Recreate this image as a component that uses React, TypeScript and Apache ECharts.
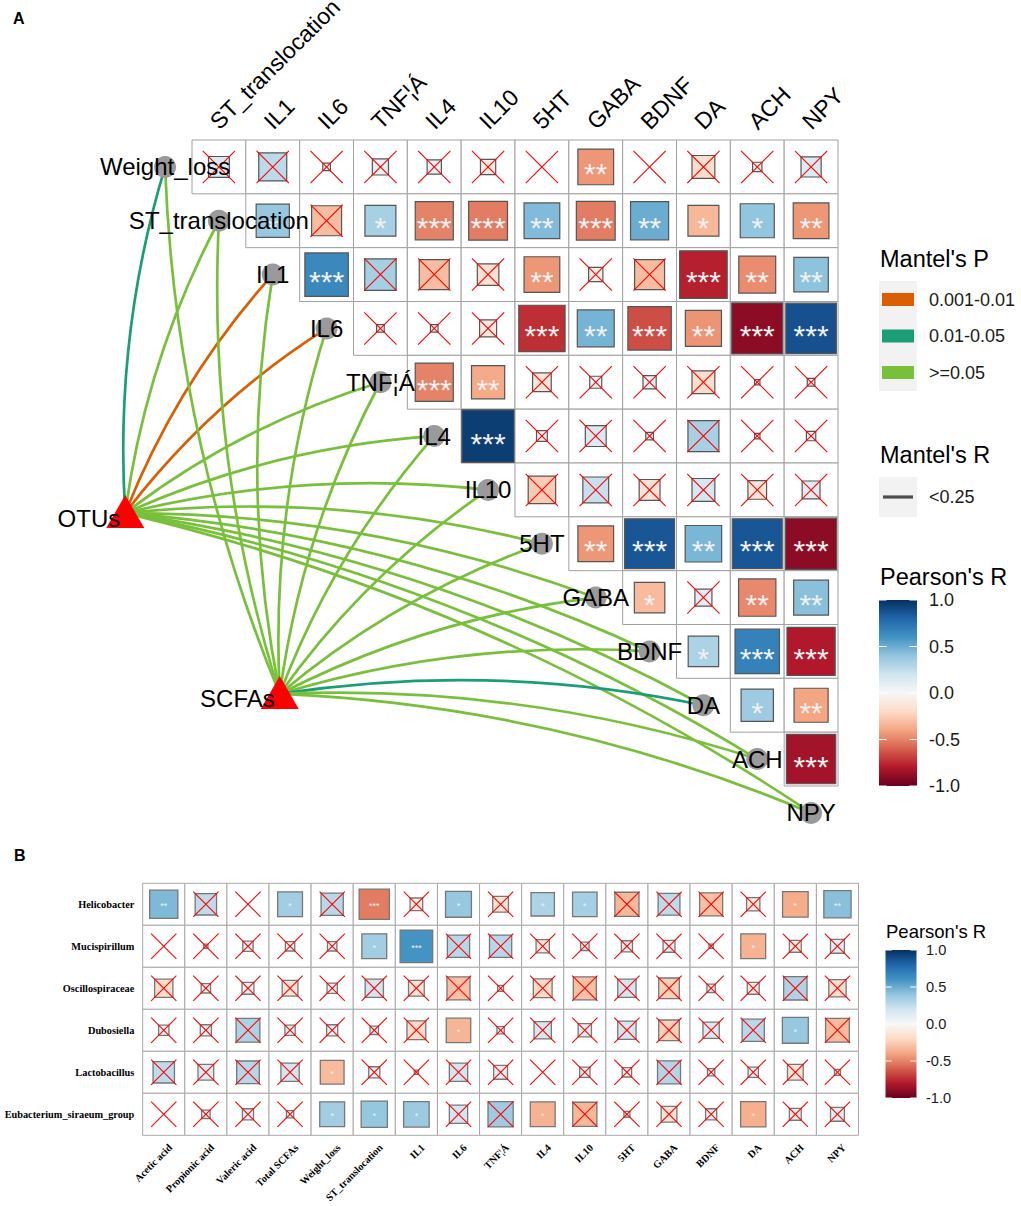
import React, { useEffect, useRef } from "react";
import * as echarts from "echarts";

// ---------------- Panel A data ----------------
const specA = ["Weight_loss", "ST_translocation", "IL1", "IL6", "TNF¦Á", "IL4", "IL10", "5HT", "GABA", "BDNF", "DA", "ACH", "NPY"];
const colsA = specA.slice(1);

const rA_WeightLoss = [0.15, 0.27, -0.02, 0.09, 0.07, -0.08, 0, -0.44, 0, -0.18, 0.03, 0.14];
const rA_ST = [0.38, -0.31, 0.33, -0.5, -0.52, 0.44, -0.52, 0.5, -0.33, 0.4, -0.44];
const rA_IL1 = [0.65, 0.34, -0.31, -0.16, -0.44, -0.07, -0.31, -0.78, -0.47, 0.41];
const rA_IL6 = [0.02, 0.02, -0.1, -0.74, 0.47, -0.65, -0.45, -0.9, 0.88];
const rA_TNF = [-0.5, -0.38, -0.12, 0.05, 0.06, -0.18, 0.01, 0.02];
const rA_IL4 = [0.95, 0.04, 0.15, 0.02, 0.33, 0.01, 0.03];
const rA_IL10 = [-0.26, 0.23, -0.15, 0.18, -0.12, 0.11];
const rA_5HT = [-0.44, 0.86, 0.46, 0.86, -0.9];
const rA_GABA = [-0.32, 0.1, -0.48, 0.42];
const rA_BDNF = [0.32, 0.68, -0.8];
const rA_DA = [0.36, -0.4];
const rA_ACH = [-0.84];
const rowsA = [rA_WeightLoss, rA_ST, rA_IL1, rA_IL6, rA_TNF, rA_IL4, rA_IL10, rA_5HT, rA_GABA, rA_BDNF, rA_DA, rA_ACH];

const sA_WeightLoss = ["ns", "ns", "ns", "ns", "ns", "ns", "ns", "**", "ns", "ns", "ns", "ns"];
const sA_ST = ["*", "ns", "*", "***", "***", "**", "***", "**", "*", "*", "**"];
const sA_IL1 = ["***", "ns", "ns", "ns", "**", "ns", "ns", "***", "**", "**"];
const sA_IL6 = ["ns", "ns", "ns", "***", "**", "***", "**", "***", "***"];
const sA_TNF = ["***", "**", "ns", "ns", "ns", "ns", "ns", "ns"];
const sA_IL4 = ["***", "ns", "ns", "ns", "ns", "ns", "ns"];
const sA_IL10 = ["ns", "ns", "ns", "ns", "ns", "ns"];
const sA_5HT = ["**", "***", "**", "***", "***"];
const sA_GABA = ["*", "ns", "**", "**"];
const sA_BDNF = ["*", "***", "***"];
const sA_DA = ["*", "**"];
const sA_ACH = ["***"];
const sigA = [sA_WeightLoss, sA_ST, sA_IL1, sA_IL6, sA_TNF, sA_IL4, sA_IL10, sA_5HT, sA_GABA, sA_BDNF, sA_DA, sA_ACH];

// Mantel test links (class index into mantelPLabels), one per spec node
const envA = ["OTUs", "SCFAs"];
const mantelPLabels = ["0.001-0.01", "0.01-0.05", ">=0.05"];
const mantelPColors = ["#D95F02", "#1B9E77", "#78C03A"];
const mantelOTUs = [1, 2, 0, 0, 2, 2, 2, 2, 2, 2, 2, 2, 2];
const mantelSCFAs = [2, 2, 2, 2, 2, 2, 2, 2, 2, 2, 1, 2, 2];
const mantelRLabels = ["<0.25"];

// ---------------- Panel B data ----------------
const genera = ["Helicobacter", "Mucispirillum", "Oscillospiraceae", "Dubosiella", "Lactobacillus", "Eubacterium_siraeum_group"];
const varsB = ["Acetic acid", "Propionic acid", "Valeric acid", "Total SCFAs", "Weight_loss", "ST_translocation", "IL1", "IL6", "TNF¦Á", "IL4", "IL10", "5HT", "GABA", "BDNF", "DA", "ACH", "NPY"];

const rB_Helicobacter = [0.45, 0.26, 0.0, 0.35, 0.28, -0.52, -0.09, 0.38, -0.14, 0.31, 0.34, -0.33, 0.27, -0.3, -0.1, -0.37, 0.42];
const rB_Mucispirillum = [0, 0.01, 0.06, 0.05, 0.05, 0.35, 0.6, 0.28, 0.28, -0.1, 0.04, 0.07, 0.08, 0.01, -0.35, -0.08, 0.11];
const rB_Oscillospiraceae = [-0.19, 0.05, 0.08, -0.14, 0.06, 0.19, -0.14, -0.3, 0.02, -0.2, -0.3, 0.19, -0.24, 0.04, -0.08, 0.31, -0.17];
const rB_Dubosiella = [0.06, 0.07, 0.32, 0.06, 0.07, 0.04, -0.2, -0.34, 0.03, 0.17, 0.1, 0.19, -0.24, 0.15, 0.28, 0.38, -0.32];
const rB_Lactobacillus = [0.26, 0.14, 0.29, 0.19, -0.32, 0.07, 0.01, 0.19, 0.11, 0.0, 0.06, 0.05, 0.3, 0.03, 0.06, -0.14, 0.02];
const rB_Eubacterium = [0, 0.04, 0.07, 0.03, 0.35, 0.39, 0.37, 0.19, 0.36, -0.35, -0.33, 0.02, -0.14, 0.07, -0.36, -0.08, 0.11];
const rowsB = [rB_Helicobacter, rB_Mucispirillum, rB_Oscillospiraceae, rB_Dubosiella, rB_Lactobacillus, rB_Eubacterium];

const sB_Helicobacter = ["**", "ns", "ns", "*", "ns", "***", "ns", "*", "ns", "*", "*", "ns", "ns", "ns", "ns", "*", "**"];
const sB_Mucispirillum = ["ns", "ns", "ns", "ns", "ns", "*", "***", "ns", "ns", "ns", "ns", "ns", "ns", "ns", "*", "ns", "ns"];
const sB_Oscillospiraceae = ["ns", "ns", "ns", "ns", "ns", "ns", "ns", "ns", "ns", "ns", "ns", "ns", "ns", "ns", "ns", "ns", "ns"];
const sB_Dubosiella = ["ns", "ns", "ns", "ns", "ns", "ns", "ns", "*", "ns", "ns", "ns", "ns", "ns", "ns", "ns", "*", "ns"];
const sB_Lactobacillus = ["ns", "ns", "ns", "ns", "*", "ns", "ns", "ns", "ns", "ns", "ns", "ns", "ns", "ns", "ns", "ns", "ns"];
const sB_Eubacterium = ["ns", "ns", "ns", "ns", "*", "*", "*", "ns", "ns", "*", "ns", "ns", "ns", "ns", "*", "ns", "ns"];
const sigB = [sB_Helicobacter, sB_Mucispirillum, sB_Oscillospiraceae, sB_Dubosiella, sB_Lactobacillus, sB_Eubacterium];

const pearsonTicks = [-1, -0.5, 0, 0.5, 1];
const rdbu = ["#67001F", "#B2182B", "#D6604D", "#F4A582", "#FDDBC7", "#F7F7F7", "#D1E5F0", "#92C5DE", "#4393C3", "#2166AC", "#053061"];

// ---------------- layout (not data) ----------------
const SANS = "Arial, 'Liberation Sans', Helvetica, sans-serif";
const SERIF = "'Times New Roman', 'Liberation Serif', serif";
const envNodePos = [[-1.24, 6.93], [1.63, 10.29]]; // grid-A units

function hex2rgb(h: string) {
  const n = parseInt(h.slice(1), 16);
  return [(n >> 16) & 255, (n >> 8) & 255, n & 255];
}
function rColor(r: number) {
  const t = Math.max(0, Math.min(1, (r + 1) / 2)) * 10;
  const i = Math.min(9, Math.floor(t));
  const f = t - i;
  const a = hex2rgb(rdbu[i]);
  const b = hex2rgb(rdbu[i + 1]);
  const c = a.map((v, k) => Math.round(v + (b[k] - v) * f));
  return `rgb(${c[0]},${c[1]},${c[2]})`;
}
function sigLevel(s: string) {
  return s === "ns" ? 0 : s.length;
}

function cellRenderer(o: any) {
  return (params: any, api: any) => {
    const j = api.value(0), i = api.value(1), r = api.value(2), s = api.value(3);
    const c = api.coord([j + 0.5, i + 0.5]);
    const sz = api.size([1, 1]);
    const w = sz[0], h = sz[1];
    const side = Math.sqrt(Math.abs(r)) * Math.min(w, h);
    const children: any[] = [
      { type: "rect", shape: { x: c[0] - w / 2, y: c[1] - h / 2, width: w, height: h }, style: { fill: "#fff", stroke: o.grid, lineWidth: 1 } },
    ];
    if (side > 0.8) {
      children.push({ type: "rect", shape: { x: c[0] - side / 2, y: c[1] - side / 2, width: side, height: side }, style: { fill: rColor(r), stroke: o.sq, lineWidth: o.sqW } });
    }
    if (s === 0) {
      const a = 0.3 * w, b = 0.3 * h;
      children.push({ type: "line", shape: { x1: c[0] - a, y1: c[1] - b, x2: c[0] + a, y2: c[1] + b }, style: { stroke: "#FF0000", lineWidth: 1.1 } });
      children.push({ type: "line", shape: { x1: c[0] - a, y1: c[1] + b, x2: c[0] + a, y2: c[1] - b }, style: { stroke: "#FF0000", lineWidth: 1.1 } });
    } else {
      children.push({ type: "text", x: c[0], y: c[1] + o.starDy, style: { text: "*".repeat(s), fontSize: o.starFs, fontFamily: SANS, fill: "#F0F0F0", align: "center", verticalAlign: "middle" } });
    }
    return { type: "group", children };
  };
}

function colorbarRenderer(params: any, api: any) {
  const tl = api.coord([0, 1]);
  const br = api.coord([1, -1]);
  const w = br[0] - tl[0];
  const stops = rdbu.map((col, k) => ({ offset: k / 10, color: rdbu[10 - k] }));
  const children: any[] = [
    { type: "rect", shape: { x: tl[0], y: tl[1], width: w, height: br[1] - tl[1] }, style: { fill: new echarts.graphic.LinearGradient(0, 0, 0, 1, stops) } },
  ];
  pearsonTicks.forEach((v) => {
    const y = api.coord([0, v])[1];
    children.push({ type: "line", shape: { x1: tl[0], y1: y, x2: tl[0] + w / 5, y2: y }, style: { stroke: "#fff", lineWidth: 1 } });
    children.push({ type: "line", shape: { x1: br[0] - w / 5, y1: y, x2: br[0], y2: y }, style: { stroke: "#fff", lineWidth: 1 } });
  });
  return { type: "group", children };
}

function buildOption() {
  const cellsA: any[] = [];
  rowsA.forEach((row, i) => row.forEach((r, k) => cellsA.push([i + k, i, r, sigLevel(sigA[i][k])])));
  const cellsB: any[] = [];
  rowsB.forEach((row, i) => row.forEach((r, j) => cellsB.push([j, i, r, sigLevel(sigB[i][j])])));

  const links: any[] = [];
  mantelOTUs.forEach((cls, i) => links.push([0, i, cls]));
  mantelSCFAs.forEach((cls, i) => links.push([1, i, cls]));

  const specNodes = specA.map((_, i) => [i, 0]);
  const envNodes = envA.map((_, e) => [e, 0]);
  const colNodesA = colsA.map((_, j) => [j, 0]);
  const colNodesB = varsB.map((_, j) => [j, 0]);

  const legendP = mantelPLabels.map((lab, k) => {
    const cy = 299.5 + k * 36.5;
    return [
      { type: "rect", shape: { x: 882, y: cy - 6.5, width: 32, height: 13 }, style: { fill: mantelPColors[k] } },
      { type: "text", x: 929, y: cy, style: { text: lab, fontSize: 18, fontFamily: SANS, fill: "#1A1A1A", verticalAlign: "middle" } },
    ];
  }).flat();

  return {
    animation: false,
    backgroundColor: "#fff",
    grid: [
      { left: 192, top: 140, width: 646, height: 646 },
      { left: 879, top: 600, width: 38, height: 186 },
      { left: 142.7, top: 883.3, width: 715.8, height: 252 },
      { left: 885.5, top: 950, width: 31, height: 148 },
    ],
    xAxis: [
      { type: "value", gridIndex: 0, min: 0, max: 12, show: false },
      { type: "value", gridIndex: 1, min: 0, max: 1, show: false },
      { type: "value", gridIndex: 2, min: 0, max: 17, show: false },
      { type: "value", gridIndex: 3, min: 0, max: 1, show: false },
    ],
    yAxis: [
      { type: "value", gridIndex: 0, min: 0, max: 12, inverse: true, show: false },
      {
        type: "value", gridIndex: 1, min: -1, max: 1, interval: 0.5, position: "right",
        axisLine: { show: false }, axisTick: { show: false }, splitLine: { show: false },
        axisLabel: { showMinLabel: true, showMaxLabel: true, margin: 12, fontSize: 18, fontFamily: SANS, color: "#1A1A1A", formatter: (v: number) => (Math.abs(v) < 1e-9 ? 0 : v).toFixed(1) },
      },
      { type: "value", gridIndex: 2, min: 0, max: 6, inverse: true, show: false },
      {
        type: "category", gridIndex: 2, data: genera, inverse: true, position: "left",
        axisLine: { show: false }, axisTick: { show: false }, splitLine: { show: false },
        axisLabel: { margin: 8.4, fontSize: 10.3, fontFamily: SERIF, fontWeight: "bold", color: "#000" },
      },
      {
        type: "value", gridIndex: 3, min: -1, max: 1, interval: 0.5, position: "right",
        axisLine: { show: false }, axisTick: { show: false }, splitLine: { show: false },
        axisLabel: { showMinLabel: true, showMaxLabel: true, margin: 9.5, fontSize: 14.6, fontFamily: SANS, color: "#1A1A1A", formatter: (v: number) => (Math.abs(v) < 1e-9 ? 0 : v).toFixed(1) },
      },
    ],
    series: [
      // Panel A cells
      {
        type: "custom", xAxisIndex: 0, yAxisIndex: 0, silent: true, data: cellsA,
        renderItem: cellRenderer({ grid: "#A0A0A0", sq: "#555555", sqW: 1.2, starFs: 30, starDy: 7 }),
      },
      // Mantel links
      {
        type: "custom", xAxisIndex: 0, yAxisIndex: 0, silent: true, data: links,
        renderItem: (params: any, api: any) => {
          const e = api.value(0), i = api.value(1), cls = api.value(2);
          const s = api.coord(envNodePos[e]);
          const t = api.coord([i - 0.5, i + 0.5]);
          const dx = t[0] - s[0], dy = t[1] - s[1];
          const K = 0.09;
          const cx = (s[0] + t[0]) / 2 + K * dy;
          const cy = (s[1] + t[1]) / 2 - K * dx;
          return { type: "bezierCurve", shape: { x1: s[0], y1: s[1], x2: t[0], y2: t[1], cpx1: cx, cpy1: cy }, style: { stroke: mantelPColors[cls], lineWidth: 2.7, fill: "none" } };
        },
      },
      // spec nodes
      {
        type: "custom", xAxisIndex: 0, yAxisIndex: 0, silent: true, data: specNodes,
        renderItem: (params: any, api: any) => {
          const i = api.value(0);
          const p = api.coord([i - 0.5, i + 0.5]);
          return {
            type: "group", children: [
              { type: "circle", shape: { cx: p[0], cy: p[1], r: 11 }, style: { fill: "#9A9A9A" } },
              { type: "text", x: p[0], y: p[1], style: { text: specA[i], fontSize: 24, fontFamily: SANS, fill: "#000", align: "center", verticalAlign: "middle" } },
            ],
          };
        },
      },
      // env nodes
      {
        type: "custom", xAxisIndex: 0, yAxisIndex: 0, silent: true, data: envNodes,
        renderItem: (params: any, api: any) => {
          const e = api.value(0);
          const p = api.coord(envNodePos[e]);
          return {
            type: "group", children: [
              { type: "polygon", shape: { points: [[p[0], p[1] - 18], [p[0] + 19, p[1] + 15], [p[0] - 19, p[1] + 15]] }, style: { fill: "#FF0000" } },
              { type: "text", x: p[0] - 5, y: p[1] + 5, style: { text: envA[e], fontSize: 24, fontFamily: SANS, fill: "#000", align: "right", verticalAlign: "middle" } },
            ],
          };
        },
      },
      // column labels A
      {
        type: "custom", xAxisIndex: 0, yAxisIndex: 0, silent: true, data: colNodesA,
        renderItem: (params: any, api: any) => {
          const j = api.value(0);
          const p = api.coord([j + 0.5, 0]);
          return { type: "text", x: p[0] - 5, y: p[1] - 15, rotation: Math.PI / 4, style: { text: colsA[j], fontSize: 23, fontFamily: SANS, fill: "#000", align: "left", verticalAlign: "middle" } };
        },
      },
      // colorbar A
      { type: "custom", xAxisIndex: 1, yAxisIndex: 1, silent: true, data: [[0, 0]], renderItem: colorbarRenderer },
      // Panel B cells
      {
        type: "custom", xAxisIndex: 2, yAxisIndex: 2, silent: true, data: cellsB,
        renderItem: cellRenderer({ grid: "#A8A8A8", sq: "#777777", sqW: 1.3, starFs: 9, starDy: 2 }),
      },
      // column labels B
      {
        type: "custom", xAxisIndex: 2, yAxisIndex: 2, silent: true, data: colNodesB,
        renderItem: (params: any, api: any) => {
          const j = api.value(0);
          const p = api.coord([j + 0.5, 6]);
          return { type: "text", x: p[0] + 3, y: p[1] + 7, rotation: Math.PI / 4, style: { text: varsB[j], fontSize: 10.3, fontFamily: SERIF, fontWeight: "bold", fill: "#000", align: "right", verticalAlign: "top" } };
        },
      },
      // colorbar B
      { type: "custom", xAxisIndex: 3, yAxisIndex: 4, silent: true, data: [[0, 0]], renderItem: colorbarRenderer },
    ],
    graphic: [
      { type: "text", x: 13, y: 18, style: { text: "A", fontSize: 16, fontWeight: "bold", fontFamily: SANS, fill: "#000", verticalAlign: "middle" } },
      { type: "text", x: 14, y: 855, style: { text: "B", fontSize: 16, fontWeight: "bold", fontFamily: SANS, fill: "#000", verticalAlign: "middle" } },
      { type: "text", x: 880, y: 259, style: { text: "Mantel's P", fontSize: 23.5, fontFamily: SANS, fill: "#000", verticalAlign: "middle" } },
      { type: "rect", shape: { x: 879, y: 281, width: 38, height: 110 }, style: { fill: "#F2F2F2" } },
      ...legendP,
      { type: "text", x: 880, y: 455, style: { text: "Mantel's R", fontSize: 23.5, fontFamily: SANS, fill: "#000", verticalAlign: "middle" } },
      { type: "rect", shape: { x: 879, y: 477, width: 38, height: 40 }, style: { fill: "#F2F2F2" } },
      { type: "line", shape: { x1: 883, y1: 497, x2: 913, y2: 497 }, style: { stroke: "#4D4D4D", lineWidth: 3.2 } },
      { type: "text", x: 929, y: 497, style: { text: mantelRLabels[0], fontSize: 18, fontFamily: SANS, fill: "#1A1A1A", verticalAlign: "middle" } },
      { type: "text", x: 880, y: 577, style: { text: "Pearson's R", fontSize: 23.5, fontFamily: SANS, fill: "#000", verticalAlign: "middle" } },
      { type: "text", x: 886, y: 931, style: { text: "Pearson's R", fontSize: 18.5, fontFamily: SANS, fill: "#000", verticalAlign: "middle" } },
    ],
  };
}

export default function App() {
  const ref = useRef<HTMLDivElement>(null);
  useEffect(() => {
    if (!ref.current) return;
    const chart = echarts.init(ref.current, undefined, { renderer: "svg" });
    chart.setOption(buildOption() as any);
    return () => chart.dispose();
  }, []);
  return <div ref={ref} style={{ position: "absolute", left: 0, top: 0, width: 1021, height: 1206, background: "#fff" }} />;
}
